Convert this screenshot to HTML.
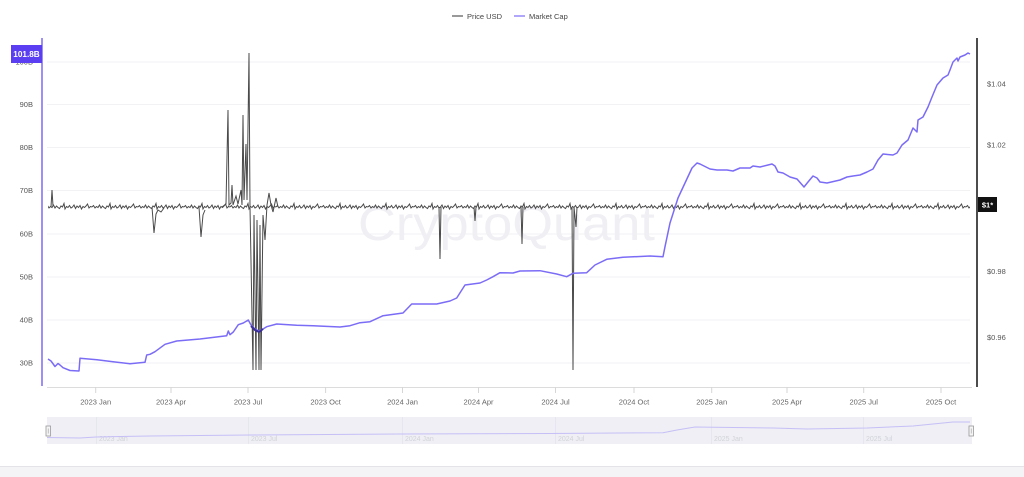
<!DOCTYPE html>
<html>
<head>
<meta charset="utf-8">
<style>
html,body{margin:0;padding:0;background:#fff;}
svg{display:block;}
text{font-family:"Liberation Sans",Arial,sans-serif;}
</style>
</head>
<body>
<svg width="1024" height="477" viewBox="0 0 1024 477" xmlns="http://www.w3.org/2000/svg">
<defs>
<pattern id="noise" patternUnits="userSpaceOnUse" x="0" y="199" width="46" height="16">
<polyline fill="none" stroke="#4a4a4a" stroke-width="1" points="0,8 1.5,6.5 3,9 4.5,7.5 6,8.5 7.5,6 9,9 10.5,7 12,8.5 13.5,9.5 15,7 16.5,8 18,4.5 19,10 20.5,7.5 22,8.5 23.5,6.5 25,9 26.5,8 28,6 29.5,9.5 31,7 32.5,8.5 34,6.5 35.5,10 37,7.5 38.5,8.5 40,7 41.5,5 43,9 44.5,7.5 46,8"/>
</pattern>
</defs>
<rect width="1024" height="477" fill="#fff"/>

<!-- legend -->
<line x1="452" y1="16" x2="463" y2="16" stroke="#555" stroke-width="1.2"/>
<text x="467" y="19" font-size="7.5" fill="#444">Price USD</text>
<line x1="514" y1="16" x2="525" y2="16" stroke="#7b6cf6" stroke-width="1.2"/>
<text x="529" y="19" font-size="7.5" fill="#444">Market Cap</text>

<!-- grid -->
<g stroke="#f2f2f4" stroke-width="1">
<line x1="47" y1="62" x2="970" y2="62"/>
<line x1="47" y1="104.5" x2="970" y2="104.5"/>
<line x1="47" y1="147.5" x2="970" y2="147.5"/>
<line x1="47" y1="190.5" x2="970" y2="190.5"/>
<line x1="47" y1="234" x2="970" y2="234"/>
<line x1="47" y1="277" x2="970" y2="277"/>
<line x1="47" y1="320" x2="970" y2="320"/>
<line x1="47" y1="363" x2="970" y2="363"/>
</g>

<!-- watermark -->
<text x="358" y="240" font-size="48" fill="#efeff4" textLength="297" lengthAdjust="spacingAndGlyphs">CryptoQuant</text>

<!-- left axis labels -->
<g font-size="7.5" fill="#555" text-anchor="end">
<text x="33" y="64.5">100B</text>
<text x="33" y="107">90B</text>
<text x="33" y="150">80B</text>
<text x="33" y="193">70B</text>
<text x="33" y="236.5">60B</text>
<text x="33" y="279.5">50B</text>
<text x="33" y="322.5">40B</text>
<text x="33" y="365.5">30B</text>
</g>

<!-- right axis labels -->
<g font-size="7.5" fill="#555">
<text x="987" y="86.5">$1.04</text>
<text x="987" y="147.5">$1.02</text>
<text x="987" y="274">$0.98</text>
<text x="987" y="340">$0.96</text>
</g>

<!-- price baseline noise -->
<rect x="48" y="199" width="922" height="16" fill="url(#noise)"/>

<!-- price spikes -->
<g fill="none" stroke="#4a4a4a" stroke-width="1" stroke-linejoin="miter">
<path d="M51,207 L52,190 L53,206"/>
<path d="M152,207 L154,233 L156,214 L158,210 L161,212 L164,208"/>
<path d="M199,207 L201,237 L203,215 L205,210"/>
<path d="M222,207 L226,204 L228,110 L229,205 L231,203 L232,185 L233,205 L236,196 L238,204 L241,190 L242,205 L243,115 L244,200 L246,144 L247,200 L249,53 L250,207 L253,370 L254,215 L256,370 L257,220 L259,370 L260,225 L261,370 L263,215 L265,240 L267,205 L269,193 L271,205 L273,212 L276,198 L278,207"/>
<path d="M439,207 L440,259 L441,207"/>
<path d="M474,207 L475,221 L476,207"/>
<path d="M521,207 L522,244 L523,207"/>
<path d="M572,207 L573,370 L574,207 L576,227 L577,207"/>
</g>

<!-- market cap -->
<polyline fill="none" stroke="#7b6cf6" stroke-width="1.5" stroke-linejoin="round" points="48,359 51,361 55,366.5 58,363.5 60,365 63,367.7 70,370.5 79,371 80,358.3 97,359.7 113,361.7 130,363.7 145,362.3 146.7,355 150,354.3 155,351.7 165,344.3 176.7,341 200,339 226.7,335.7 228.3,331 230,334.7 233.3,332 238.3,324.7 243.3,323 248.3,320 251,325 255,329 259,331 263,329 266.7,326.7 276.7,324 296.7,325.3 313,325.7 340,327 350,325.7 360,322.7 370,321.7 383,315.7 403,313 411.7,304 436.7,304 450,301 456.7,298 465,285 480,283 486.7,280 493,276.7 500,272.7 513,273 520,271 540,270.7 556.7,274 566.7,276.7 573,273.3 586.7,272.7 595,265 606.7,259.3 623,257.3 650,256 663,256.7 665,246.7 670,223 678,198 685,183 692,168 697,163 700,164 710,169 717,170 727,170 733,171 740,168 750,168 753,166 760,167 772,164 775,166 778,172 783,173 790,177 797,179 804,187 808,182 813,176 817,178 820,182 827,183 840,180 847,177 853,176 860,175 867,172 873,169 878,160 883,154 893,155 897,153 902,145 908,140 913,128 917,132 918,120 923,117 928,107 932,97 937,85 943,78 948,75 950,70 953,62 957,58 958,61 960,57 965,55 968,53 970,54"/>
<!-- dark overlap blob -->
<path d="M251,326 L255,330 L259,332 L263,329" fill="none" stroke="#3b2f9a" stroke-width="2"/>

<!-- axes lines -->
<line x1="42" y1="38" x2="42" y2="386" stroke="#7b6cf6" stroke-width="1.5"/>
<line x1="977" y1="38" x2="977" y2="387" stroke="#111" stroke-width="1.5"/>

<!-- left value box -->
<rect x="11" y="45" width="31" height="18" fill="#5b3ef2"/>
<text x="26.5" y="57.2" font-size="8.2" font-weight="bold" fill="#fff" text-anchor="middle">101.8B</text>

<!-- right value box -->
<rect x="978" y="197" width="19" height="15" fill="#111"/>
<text x="987.5" y="207.5" font-size="7.5" fill="#fff" font-weight="bold" text-anchor="middle">$1*</text>

<!-- x axis -->
<line x1="47" y1="387.5" x2="972" y2="387.5" stroke="#dcdcdc" stroke-width="1"/>
<g stroke="#d6d6d6" stroke-width="1">
<line x1="95.7" y1="387" x2="95.7" y2="393"/>
<line x1="171" y1="387" x2="171" y2="393"/>
<line x1="248" y1="387" x2="248" y2="393"/>
<line x1="325.6" y1="387" x2="325.6" y2="393"/>
<line x1="402.5" y1="387" x2="402.5" y2="393"/>
<line x1="478.5" y1="387" x2="478.5" y2="393"/>
<line x1="555.5" y1="387" x2="555.5" y2="393"/>
<line x1="634" y1="387" x2="634" y2="393"/>
<line x1="711.7" y1="387" x2="711.7" y2="393"/>
<line x1="787" y1="387" x2="787" y2="393"/>
<line x1="863.7" y1="387" x2="863.7" y2="393"/>
<line x1="941" y1="387" x2="941" y2="393"/>
</g>
<g font-size="7.5" fill="#666" text-anchor="middle">
<text x="95.7" y="404.5">2023 Jan</text>
<text x="171" y="404.5">2023 Apr</text>
<text x="248" y="404.5">2023 Jul</text>
<text x="325.6" y="404.5">2023 Oct</text>
<text x="402.5" y="404.5">2024 Jan</text>
<text x="478.5" y="404.5">2024 Apr</text>
<text x="555.5" y="404.5">2024 Jul</text>
<text x="634" y="404.5">2024 Oct</text>
<text x="711.7" y="404.5">2025 Jan</text>
<text x="787" y="404.5">2025 Apr</text>
<text x="863.7" y="404.5">2025 Jul</text>
<text x="941" y="404.5">2025 Oct</text>
</g>

<!-- navigator -->
<rect x="47" y="417" width="925" height="27" fill="#efeff5"/>
<g stroke="#e6e6ee" stroke-width="1">
<line x1="96.5" y1="417" x2="96.5" y2="444"/>
<line x1="248.5" y1="417" x2="248.5" y2="444"/>
<line x1="402.5" y1="417" x2="402.5" y2="444"/>
<line x1="555.5" y1="417" x2="555.5" y2="444"/>
<line x1="711.5" y1="417" x2="711.5" y2="444"/>
<line x1="863.5" y1="417" x2="863.5" y2="444"/>
</g>
<g font-size="7" fill="#d2d2da">
<text x="99" y="441">2023 Jan</text>
<text x="251" y="441">2023 Jul</text>
<text x="405" y="441">2024 Jan</text>
<text x="558" y="441">2024 Jul</text>
<text x="714" y="441">2025 Jan</text>
<text x="866" y="441">2025 Jul</text>
</g>
<polyline fill="none" stroke="#c6bff6" stroke-width="1" points="47,437.5 80,438 96,437 150,436 250,435 400,434 550,433.5 663,432.7 677,430 695,427 773,428 807,429 867,428 913,426 933,424 953,422 970,422"/>
<rect x="46" y="426" width="4.5" height="10" fill="#f5f5f5" stroke="#9a9a9a" stroke-width="0.8"/>
<line x1="48.2" y1="428.5" x2="48.2" y2="433.5" stroke="#9a9a9a" stroke-width="0.6"/>
<rect x="969" y="426" width="4.5" height="10" fill="#f5f5f5" stroke="#9a9a9a" stroke-width="0.8"/>
<line x1="971.2" y1="428.5" x2="971.2" y2="433.5" stroke="#9a9a9a" stroke-width="0.6"/>

<!-- bottom band -->
<rect x="0" y="466" width="1024" height="11" fill="#f4f4f6"/>
<line x1="0" y1="466.5" x2="1024" y2="466.5" stroke="#e4e4e8" stroke-width="1"/>
</svg>
</body>
</html>
